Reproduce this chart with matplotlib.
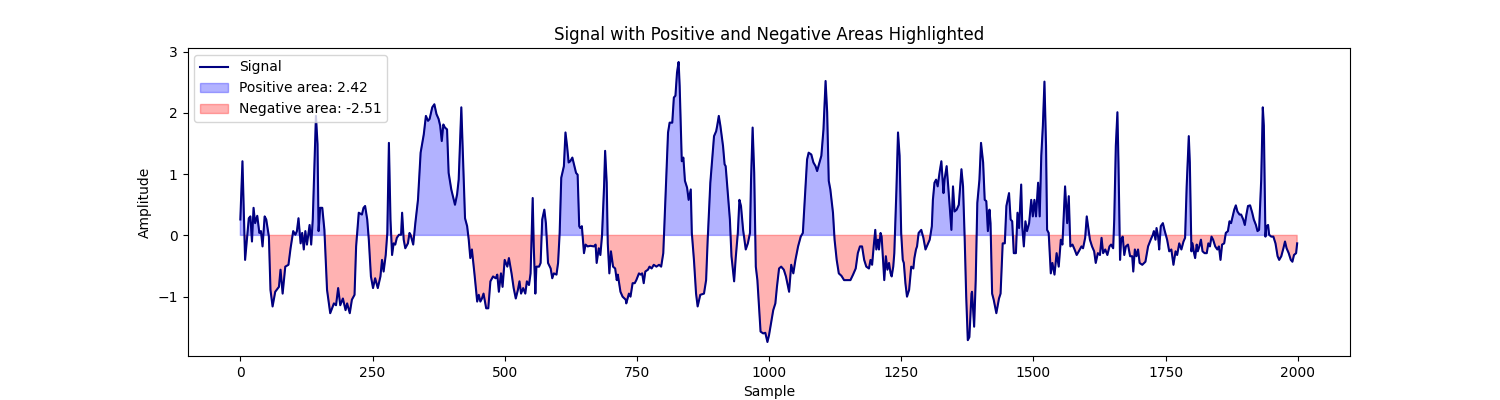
import matplotlib
matplotlib.use("Agg")
import matplotlib.pyplot as plt
import numpy as np

# sample index / amplitude pairs
sample = [
    0, 4, 9, 16, 19, 22, 25, 28, 32, 36, 39, 42, 46, 49, 54, 57, 61, 66, 73, 76,
    80, 85, 91, 95, 100, 104, 107, 110, 114, 117, 120, 123, 126, 131, 134, 137, 143, 146, 148, 151,
    155, 159, 164, 170, 177, 181, 185, 189, 194, 199, 202, 207, 211, 216, 219, 224, 230, 233, 236, 240,
    243, 247, 251, 255, 260, 265, 268, 271, 275, 278, 281, 284, 287, 290, 293, 296, 300, 304, 306, 309,
    312, 317, 320,
    322, 327, 331, 336, 341, 347, 351, 355, 358, 363, 367, 371, 375, 378, 381, 384, 387, 391, 394, 399,
    402, 406, 410, 413, 418, 421, 425, 429, 432, 435, 438, 443, 448, 451, 454, 457, 460, 465, 469, 473,
    478, 483, 486, 489, 493, 496, 500, 505, 508, 513, 517, 521, 525, 528, 531, 535, 539, 542, 546, 549,
    553, 555, 558, 560, 565, 568, 571, 575, 578, 582, 587, 590, 593, 598, 601, 604, 607, 612, 615, 618,
    621, 624, 628, 632, 635, 638, 641, 643, 646, 650, 653, 657,
    662, 669, 672, 674, 678, 681, 684, 688, 690, 693, 695, 698, 701, 705, 709, 712, 714, 719, 723, 729,
    730, 735, 738, 742, 746, 749, 754, 757, 760, 763, 766, 771, 774, 778, 782, 787, 792, 796, 800, 804,
    809, 812, 817, 820, 823, 826, 829, 831, 835, 838, 841, 845, 848, 852, 854, 858, 862, 865, 870, 877,
    881, 884, 889, 896, 900, 902, 905, 908, 913, 916, 918, 922, 926, 929, 934, 937, 941, 944, 947, 951,
    956, 960, 964, 966, 969, 972, 975, 978, 981, 984, 989, 993, 997, 1000,
    1008, 1012, 1015, 1019, 1023, 1028, 1032, 1038, 1042, 1046, 1050, 1055, 1060, 1064, 1069, 1072, 1075, 1080, 1084, 1088,
    1091, 1096, 1099, 1103, 1107, 1110, 1113, 1116, 1121, 1124, 1128, 1132, 1137, 1142, 1148, 1154, 1159, 1164, 1168, 1172,
    1176, 1180, 1184, 1189, 1192, 1195, 1198, 1201, 1203, 1206, 1208, 1211, 1213, 1216, 1218, 1221, 1224, 1227, 1230, 1232,
    1235, 1237, 1241, 1244, 1247, 1250, 1253, 1255, 1258, 1261, 1265, 1269, 1273, 1275, 1278, 1280, 1283, 1288, 1292, 1296,
    1301, 1304, 1308, 1310, 1313, 1316, 1319, 1323, 1326, 1330, 1332, 1336, 1339,
    1345, 1348, 1351, 1355, 1359, 1364, 1367, 1370, 1373, 1376, 1379, 1383, 1384, 1388, 1391, 1394, 1398, 1401, 1405, 1408,
    1411, 1414, 1417, 1419, 1422, 1425, 1430, 1435, 1438, 1442, 1446, 1449, 1454, 1457, 1460, 1463, 1467, 1470, 1473, 1477,
    1479, 1482, 1485, 1488, 1492, 1496, 1499, 1502, 1505, 1509, 1512, 1515, 1518, 1521, 1524, 1526, 1529, 1533, 1536, 1540,
    1544, 1548, 1552, 1555, 1560, 1564, 1567, 1570, 1574, 1578, 1582, 1586, 1591, 1594, 1598, 1601, 1604, 1607, 1611, 1615,
    1618, 1622, 1626, 1629, 1632, 1636, 1640, 1644, 1647, 1651, 1653, 1656, 1659, 1661, 1664, 1666, 1669, 1672, 1675, 1679,
    1683,
    1687, 1689, 1692, 1695, 1698, 1701, 1706, 1712, 1717, 1722, 1726, 1728, 1731, 1733, 1736, 1738, 1741, 1745, 1748, 1753,
    1757, 1761, 1765, 1769, 1772, 1776, 1780, 1784, 1787, 1790, 1794, 1796, 1799, 1801, 1804, 1806, 1809, 1811, 1814, 1817,
    1820, 1824, 1828, 1831, 1834, 1837, 1840, 1844, 1848, 1851, 1854, 1857, 1861, 1864, 1868, 1871, 1874, 1877, 1880, 1883,
    1886, 1890, 1893, 1897, 1900, 1903, 1906, 1910, 1914, 1917, 1921, 1924, 1927, 1931, 1934, 1936, 1939, 1941, 1944, 1946,
    1950, 1954, 1958, 1962, 1965, 1969, 1973, 1976, 1979, 1983, 1987, 1990, 1993, 1997, 1999,
]
amplitude = [
    0.26, 1.21, -0.40, 0.28, 0.31, -0.10, 0.45, 0.20, 0.32, 0.04, 0.07, -0.18, 0.31, 0.26, -0.02, -0.89, -1.16, -0.92, -0.84, -0.56,
    -0.95, -0.51, -0.48, -0.21, 0.07, 0.01, 0.07, 0.28, -0.13, 0.04, -0.23, 0.07, -0.15, 0.17, -0.15, 0.26, 1.95, 1.49, 0.07, 0.45,
    0.45, 0.09, -0.89, -1.27, -1.11, -1.14, -0.86, -1.14, -1.03, -1.22, -1.11, -1.27, -1.05, -0.97, -0.18, 0.37, 0.34, 0.45, 0.48, 0.26,
    -0.07, -0.67, -0.86, -0.70, -0.86, -0.67, -0.40, -0.59, -0.32, 0.04, 1.51, 0.26, -0.32, -0.13, -0.15, -0.04, 0.01, 0.01, 0.37, -0.07,
    -0.21, -0.13, 0.04,
    0.01, -0.15, 0.20, 0.58, 1.35, 1.65, 1.95, 1.87, 1.90, 2.09, 2.14, 1.98, 1.90, 1.79, 1.54, 1.81, 1.76, 1.73, 1.02, 0.75,
    0.64, 0.50, 0.67, 0.91, 2.09, 1.30, 0.28, 0.15, -0.07, -0.37, -0.23, -0.64, -1.08, -0.97, -1.08, -1.03, -0.95, -1.19, -1.19, -0.75,
    -0.67, -0.70, -0.64, -0.92, -0.62, -0.84, -0.40, -0.51, -0.37, -0.62, -0.86, -1.03, -0.89, -0.75, -0.95, -0.86, -0.95, -0.75, -0.81, -0.62,
    0.61, -0.18, -0.95, -0.51, -0.51, -0.45, 0.26, 0.42, 0.20, -0.45, -0.54, -0.70, -0.62, -0.64, -0.45, 0.04, 0.94, 1.13, 1.68, 1.46,
    1.19, 1.21, 1.27, 1.13, 1.02, 0.99, 0.15, 0.12, 0.15, -0.29, -0.15, -0.18,
    -0.17, -0.18, -0.15, -0.45, -0.21, -0.32, -0.02, 0.80, 1.38, 0.86, -0.13, -0.62, -0.26, -0.51, -0.54, -0.73, -0.64, -0.92, -1.00, -1.05,
    -1.11, -0.95, -1.00, -0.78, -0.78, -0.73, -0.62, -0.64, -0.62, -0.78, -0.59, -0.56, -0.51, -0.54, -0.48, -0.51, -0.48, -0.51, -0.29, 0.58,
    1.68, 1.84, 1.84, 2.25, 2.28, 2.66, 2.83, 2.44, 1.21, 1.27, 0.89, 0.78, 0.58, 0.75, 0.04, -0.40, -0.95, -1.16, -0.97, -0.95,
    -0.73, -0.07, 0.86, 1.62, 1.70, 1.79, 1.95, 1.79, 1.46, 1.16, 1.13, 0.69, 0.26, -0.34, -0.75, -0.37, 0.04, 0.58, 0.48, 0.09,
    -0.23, -0.13, 0.04, 0.91, 1.76, 1.02, -0.51, -0.73, -1.16, -1.57, -1.60, -1.59, -1.74, -1.63,
    -1.22, -1.11, -0.84, -0.54, -0.51, -0.56, -0.67, -0.92, -0.48, -0.62, -0.40, -0.18, -0.02, 0.04, 0.80, 1.24, 1.35, 1.32, 1.19, 1.13,
    1.05, 1.21, 1.30, 1.73, 2.52, 2.01, 0.89, 0.75, 0.37, -0.07, -0.40, -0.62, -0.66, -0.73, -0.73, -0.73, -0.64, -0.54, -0.29, -0.18,
    -0.18, -0.40, -0.51, -0.54, -0.40, -0.48, -0.18, 0.09, -0.23, -0.07, -0.23, 0.04, -0.02, -0.45, -0.73, -0.34, -0.56, -0.45, -0.62, -0.67,
    -0.51, -0.29, 0.75, 1.68, 1.30, 0.04, -0.40, -0.45, -0.78, -1.00, -0.89, -0.51, -0.54, -0.37, -0.23, -0.18, 0.04, 0.09, -0.04, -0.23,
    -0.13, -0.07, 0.15, 0.58, 0.86, 0.91, 0.80, 1.05, 1.21, 0.69, 0.91, 1.13, 0.80,
    0.09, 0.80, 0.39, 0.42, 0.50, 1.08, 0.80, -0.02, -1.00, -1.71, -1.66, -0.95, -0.92, -1.49, -0.73, 0.53, 0.91, 1.51, 1.19, 0.58,
    0.56, 0.07, 0.42, 0.20, -0.95, -1.05, -1.27, -1.03, -0.95, -0.13, -0.13, 0.48, 0.69, 0.26, 0.23, -0.29, -0.29, 0.37, 0.12, 0.83,
    0.15, -0.18, 0.23, 0.07, 0.20, 0.58, 0.31, 0.58, 0.31, 0.86, 0.31, 1.30, 1.79, 2.51, 1.46, 0.09, 0.04, -0.62, -0.45, -0.64,
    -0.29, -0.51, -0.07, -0.15, 0.80, 0.20, 0.64, -0.18, -0.15, -0.23, -0.32, -0.26, -0.18, -0.21, -0.04, 0.31, 0.12, -0.07, -0.18, -0.26,
    -0.45, -0.29, -0.32, -0.04, -0.29, -0.23, -0.32, -0.18, -0.15, -0.21, 0.26, 1.46, 2.01, 1.19, -0.40, -0.07, -0.02, -0.32, -0.18, -0.15,
    -0.34,
    -0.34, -0.59, -0.23, -0.34, -0.23, -0.45, -0.48, -0.43, -0.18, -0.07, 0.01, 0.07, -0.07, 0.12, -0.02, -0.23, 0.15, 0.20, 0.09, -0.07,
    -0.26, -0.23, -0.48, -0.26, -0.32, -0.13, -0.23, -0.10, -0.04, 0.80, 1.62, 1.19, -0.26, -0.13, -0.29, -0.37, -0.15, -0.26, -0.18, -0.07,
    -0.26, -0.29, -0.29, -0.13, -0.18, -0.02, -0.07, -0.18, -0.23, -0.18, -0.40, -0.15, -0.13, 0.04, 0.07, 0.23, 0.20, 0.31, 0.42, 0.49,
    0.39, 0.34, 0.34, 0.26, 0.17, 0.34, 0.48, 0.49, 0.37, 0.26, 0.17, 0.07, 0.09, 0.91, 2.09, 1.79, -0.02, 0.15, 0.17, 0.01,
    -0.02, -0.02, -0.13, -0.34, -0.40, -0.34, -0.21, -0.10, -0.21, -0.29, -0.40, -0.43, -0.32, -0.29, -0.13,
]

pos_label = "Positive area: 2.42"
neg_label = "Negative area: -2.51"

x = np.array(sample)
y = np.array(amplitude)

fig, ax = plt.subplots(figsize=(15, 4), dpi=100)
ax.plot(x, y, color="navy", linewidth=1.5, label="Signal")
ax.fill_between(x, y, 0, where=(y >= 0), interpolate=True,
                color="blue", alpha=0.3, label=pos_label)
ax.fill_between(x, y, 0, where=(y < 0), interpolate=True,
                color="red", alpha=0.3, label=neg_label)

ax.set_title("Signal with Positive and Negative Areas Highlighted")
ax.set_xlabel("Sample")
ax.set_ylabel("Amplitude")
ax.legend(loc="upper left")

fig.savefig("out.png")
